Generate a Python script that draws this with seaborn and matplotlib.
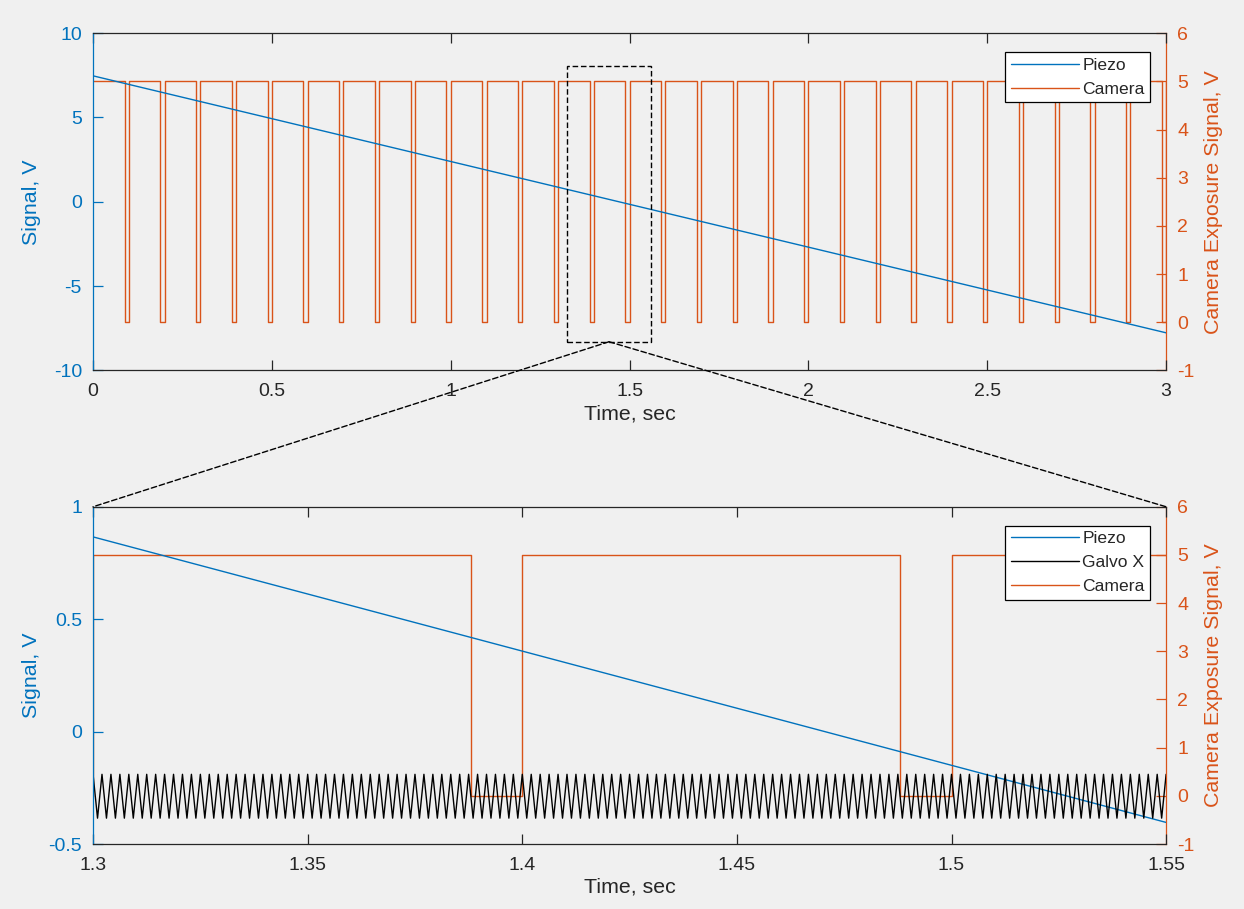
import matplotlib
matplotlib.use("Agg")
import matplotlib.pyplot as plt
import seaborn as sns
from matplotlib.patches import Rectangle, ConnectionPatch
from matplotlib.ticker import FuncFormatter, MultipleLocator

# ---- signals -------------------------------------------------------------
# Piezo ramp: start / end of the sweep (time in s, signal in V)
piezo_time = [0.0, 3.0]
piezo_volts = [7.47, -7.77]

# Camera exposure trigger: each readout gap ends at these times (s)
camera_gap_ends = [0.1, 0.2, 0.3, 0.4, 0.5, 0.6, 0.7, 0.8, 0.9, 1.0,
                   1.1, 1.2, 1.3, 1.4, 1.5, 1.6, 1.7, 1.8, 1.9, 2.0,
                   2.1, 2.2, 2.3, 2.4, 2.5, 2.6, 2.7, 2.8, 2.9, 3.0]
camera_gap = 0.012           # readout gap length, s
camera_levels = [0.0, 5.0]   # low / high, V

# Galvo X triangle drive shown in the zoomed window
galvo_window = [1.3, 1.55]
galvo_freq = 480.0           # Hz
galvo_levels = [-0.385, -0.19]

# Axis ranges and ticks
top_xlim, top_ylim, top_y2lim = [0, 3], [-10, 10], [-1, 6]
bot_xlim, bot_ylim, bot_y2lim = [1.3, 1.55], [-0.5, 1], [-1, 6]

# Dashed zoom box on the overview (time, V on the left axis)
zoom_box_t = [1.325, 1.56]
zoom_box_v = [-8.3, 8.05]

BLUE = "#0072BD"
ORANGE = "#D95319"
DARK = "#262626"
BG = "#F0F0F0"

sns.set_theme(style="white")
plt.rcParams["font.family"] = ["Liberation Sans", "DejaVu Sans"]
plt.rcParams["axes.unicode_minus"] = False

# ---- build step / zigzag vertex lists ----------------------------------
cam_t = [0.0]
cam_v = [camera_levels[1]]
for end in camera_gap_ends:
    start = end - camera_gap
    cam_t += [start, start, end, end]
    cam_v += [camera_levels[1], camera_levels[0], camera_levels[0], camera_levels[1]]

half_period = 1.0 / (2.0 * galvo_freq)
n_half = int(round((galvo_window[1] - galvo_window[0]) / half_period))
galvo_t = [galvo_window[0] + k * half_period for k in range(n_half + 1)]
galvo_v = [galvo_levels[1] if k % 2 == 0 else galvo_levels[0] for k in range(n_half + 1)]

# ---- figure ---------------------------------------------------------------
fig = plt.figure(figsize=(12.44, 9.09), dpi=100, facecolor=BG)
ax_top = fig.add_axes([0.0748, 0.5925, 0.8626, 0.371])
ax_bot = fig.add_axes([0.0748, 0.0715, 0.8626, 0.371])

fmt = FuncFormatter(lambda v, p: f"{v:g}")
TICK_FS = 14
LABEL_FS = 15.4


def draw_panel(ax, xlim, ylim, y2lim, xstep, ystep, with_galvo):
    tw = ax.twinx()
    ax.set_zorder(tw.get_zorder() + 1)
    ax.patch.set_visible(False)
    tw.set_facecolor("white")

    sns.lineplot(x=cam_t, y=cam_v, ax=tw, sort=False, estimator=None,
                 color=ORANGE, linewidth=1.0)
    cam_line = tw.lines[-1]

    handles = []
    sns.lineplot(x=piezo_time, y=piezo_volts, ax=ax, sort=False, estimator=None,
                 color=BLUE, linewidth=1.0)
    handles.append((ax.lines[-1], "Piezo"))
    if with_galvo:
        sns.lineplot(x=galvo_t, y=galvo_v, ax=ax, sort=False, estimator=None,
                     color="black", linewidth=1.0)
        handles.append((ax.lines[-1], "Galvo X"))
    handles.append((cam_line, "Camera"))

    ax.set_xlim(xlim)
    ax.set_ylim(ylim)
    tw.set_ylim(y2lim)
    ax.xaxis.set_major_locator(MultipleLocator(xstep))
    ax.yaxis.set_major_locator(MultipleLocator(ystep))
    tw.yaxis.set_major_locator(MultipleLocator(1))
    for a in (ax.xaxis, ax.yaxis, tw.yaxis):
        a.set_major_formatter(fmt)

    for s in ("top", "bottom"):
        ax.spines[s].set_color(DARK)
        ax.spines[s].set_linewidth(0.9)
    ax.spines["left"].set_color(BLUE)
    ax.spines["left"].set_linewidth(0.9)
    ax.spines["right"].set_visible(False)
    for s in ("top", "bottom", "left"):
        tw.spines[s].set_visible(False)
    tw.spines["right"].set_color(ORANGE)
    tw.spines["right"].set_linewidth(0.9)

    ax.tick_params(axis="x", direction="in", length=7, width=0.9, color=DARK,
                   labelcolor=DARK, labelsize=TICK_FS, top=True, bottom=True, pad=9)
    ax.tick_params(axis="y", direction="in", length=7, width=0.9, color=BLUE,
                   labelcolor=BLUE, labelsize=TICK_FS, left=True, right=False, pad=8)
    tw.tick_params(axis="y", direction="in", length=7, width=0.9, color=ORANGE,
                   labelcolor=ORANGE, labelsize=TICK_FS, right=True, left=False, pad=8)

    ax.set_xlabel("Time, sec", fontsize=LABEL_FS, color=DARK, labelpad=3)
    ax.set_ylabel("Signal, V", fontsize=LABEL_FS, color=BLUE)
    tw.set_ylabel("Camera Exposure Signal, V", fontsize=LABEL_FS, color=ORANGE)
    ax.yaxis.set_label_coords(-0.057, 0.5)
    ax.yaxis.label.set_verticalalignment("center")
    tw.yaxis.set_label_coords(1.0438, 0.5)
    tw.yaxis.label.set_verticalalignment("center")

    leg = ax.legend([h for h, _ in handles], [l for _, l in handles],
                    loc="upper right", bbox_to_anchor=(0.985, 0.943),
                    borderaxespad=0, fancybox=False, edgecolor="black",
                    framealpha=1, fontsize=12.6, handlelength=3.9,
                    handletextpad=0.2, labelspacing=0.5, borderpad=0.3)
    leg.get_frame().set_linewidth(0.9)
    for t in leg.get_texts():
        t.set_color(DARK)
    return tw


tw_top = draw_panel(ax_top, top_xlim, top_ylim, top_y2lim, 0.5, 5, False)
tw_bot = draw_panel(ax_bot, bot_xlim, bot_ylim, bot_y2lim, 0.05, 0.5, True)

# dashed box marking the zoomed interval and its connectors
ax_top.add_patch(Rectangle((zoom_box_t[0], zoom_box_v[0]),
                           zoom_box_t[1] - zoom_box_t[0],
                           zoom_box_v[1] - zoom_box_v[0],
                           fill=False, edgecolor="black", linestyle=(0, (4, 2)),
                           linewidth=1.0, zorder=6, clip_on=False))
anchor = ((zoom_box_t[0] + zoom_box_t[1]) / 2, zoom_box_v[0])
for corner in [(0, 1), (1, 1)]:
    con = ConnectionPatch(xyA=anchor, coordsA=ax_top.transData,
                          xyB=corner, coordsB=ax_bot.transAxes,
                          linestyle=(0, (4, 2)), color="black", linewidth=1.0,
                          zorder=10)
    fig.add_artist(con)

fig.savefig("out.png", dpi=100, facecolor=BG)
